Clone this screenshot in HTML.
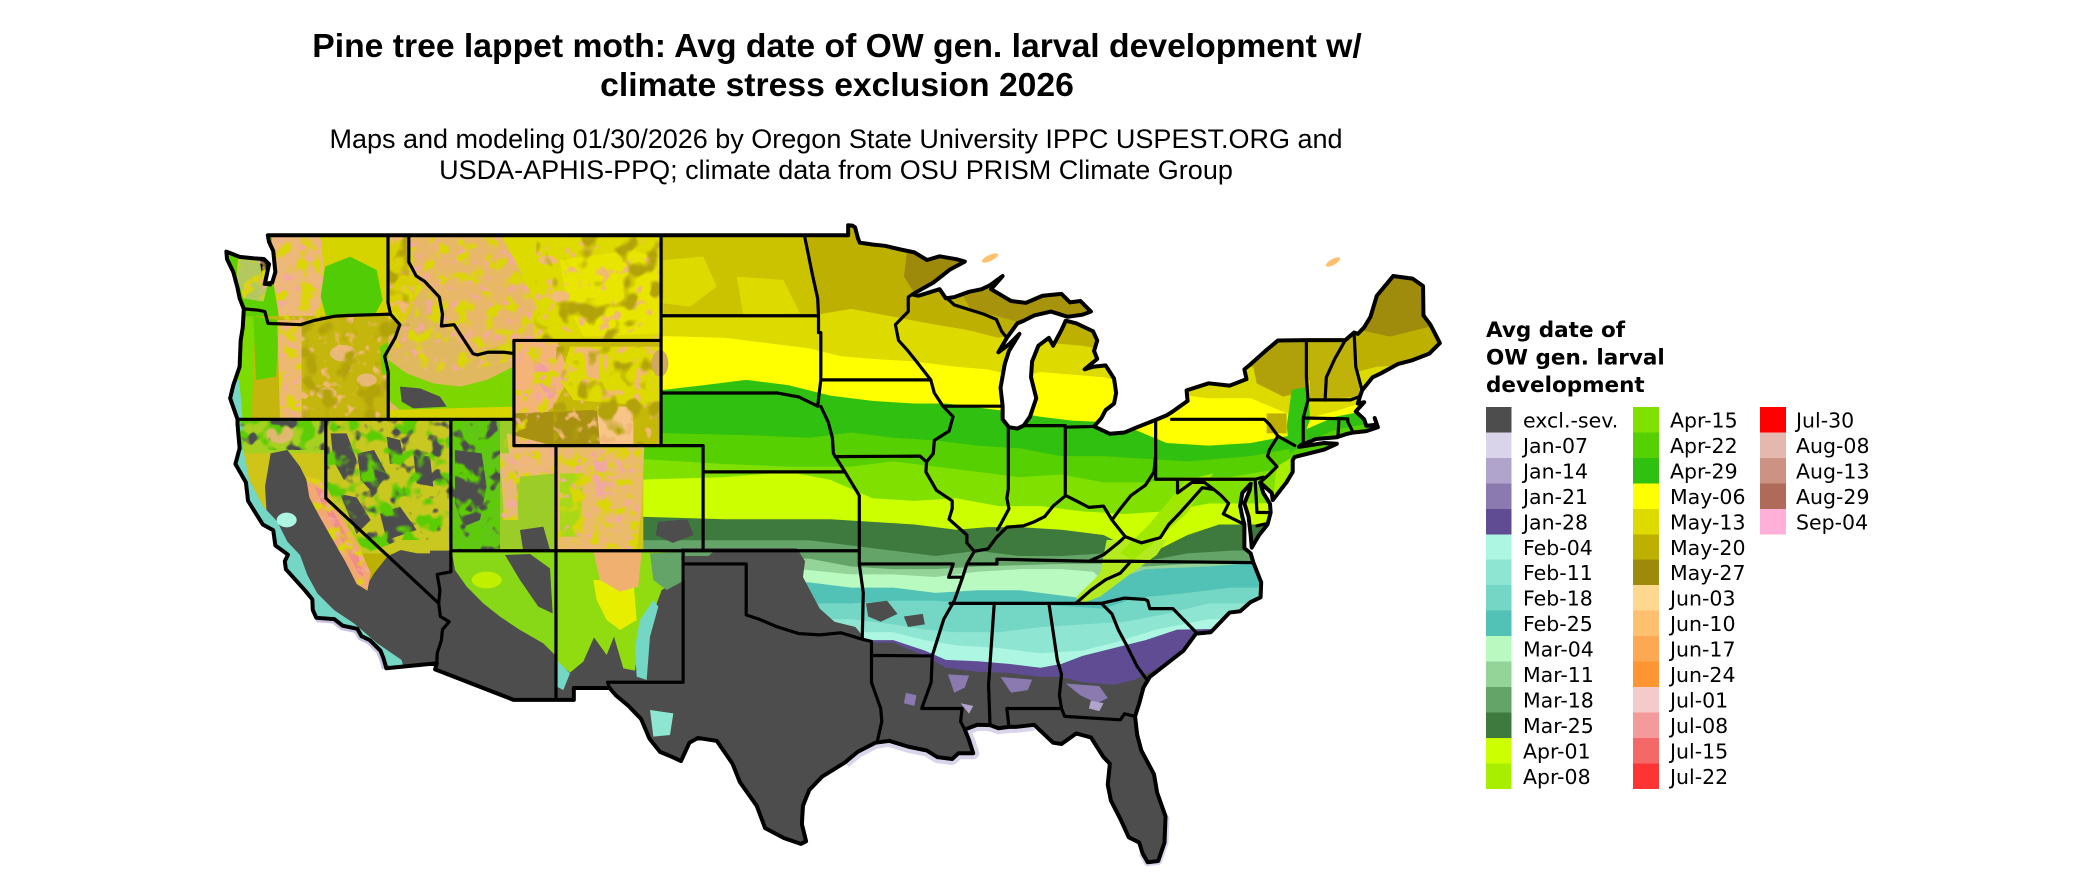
<!DOCTYPE html>
<html><head><meta charset="utf-8"><style>
html,body{margin:0;padding:0;background:#fff;}
svg{display:block;}
</style></head><body>
<svg width="2100" height="892" viewBox="0 0 2100 892" xmlns="http://www.w3.org/2000/svg">
<defs>
<clipPath id="us" clipPathUnits="userSpaceOnUse">
<path transform="matrix(21.02 0 0 -26.29 2848.2 1523.5)" d="M-124.73,48.38 L-124.1,48.18 L-123.4,48.12 L-122.95,48.1 L-122.7,47.9 L-122.9,47.15 L-122.55,47.2 L-122.4,47.6 L-122.45,48.0 L-122.5,48.4 L-122.7,48.75 L-122.76,49.0 L-95.15,49.0 L-95.15,49.38 L-94.95,49.37 L-94.82,49.3 L-94.68,48.88 L-94.6,48.72 L-94.0,48.65 L-93.4,48.6 L-92.6,48.45 L-92.0,48.35 L-91.4,48.06 L-90.8,48.2 L-90.0,48.09 L-89.6,48.0 L-90.3,47.7 L-91.1,47.2 L-92.1,46.75 L-91.8,46.7 L-91.2,46.85 L-90.8,46.95 L-90.5,46.6 L-90.1,46.65 L-89.4,46.85 L-88.8,46.95 L-88.4,47.1 L-87.8,47.45 L-88.35,46.95 L-87.4,46.5 L-86.7,46.43 L-85.9,46.7 L-85.0,46.77 L-84.6,46.45 L-84.1,46.5 L-83.6,46.1 L-84.0,45.98 L-84.7,45.9 L-85.5,46.1 L-86.3,45.95 L-86.8,45.75 L-87.1,45.65 L-87.6,45.1 L-88.0,44.55 L-87.5,44.85 L-87.0,45.25 L-87.5,44.6 L-87.7,44.1 L-87.9,43.2 L-87.8,42.5 L-87.8,42.0 L-87.5,41.7 L-87.1,41.65 L-86.8,41.76 L-86.5,42.1 L-86.2,42.8 L-86.45,43.6 L-86.4,44.2 L-86.1,44.8 L-85.6,45.1 L-85.4,44.8 L-85.0,45.4 L-84.8,45.75 L-84.3,45.65 L-83.5,45.35 L-83.3,45.0 L-83.45,44.6 L-83.3,44.3 L-83.9,43.9 L-83.5,44.0 L-82.9,44.05 L-82.5,43.55 L-82.4,43.0 L-82.5,42.6 L-82.9,42.35 L-83.1,42.05 L-83.45,41.73 L-82.7,41.45 L-82.0,41.5 L-81.4,41.7 L-80.52,41.98 L-80.0,42.15 L-79.76,42.27 L-79.0,42.7 L-79.05,43.1 L-78.0,43.37 L-77.0,43.28 L-76.2,43.53 L-76.3,43.9 L-76.0,44.1 L-75.3,44.6 L-74.7,45.0 L-73.35,45.01 L-71.5,45.01 L-71.08,45.3 L-70.9,45.25 L-70.6,45.5 L-70.3,45.9 L-70.0,46.7 L-69.22,47.45 L-68.3,47.35 L-67.8,47.07 L-67.78,45.95 L-67.45,45.6 L-67.0,44.9 L-67.5,44.5 L-68.3,44.25 L-69.0,44.1 L-69.8,43.75 L-70.2,43.6 L-70.7,43.1 L-70.8,42.87 L-70.9,42.6 L-70.6,42.65 L-71.0,42.3 L-70.6,42.0 L-70.5,41.75 L-70.0,41.8 L-70.1,42.05 L-69.95,41.7 L-70.5,41.55 L-71.1,41.5 L-71.4,41.45 L-71.9,41.32 L-72.9,41.25 L-73.65,41.0 L-73.7,40.95 L-72.5,41.1 L-71.9,41.07 L-72.5,40.85 L-73.9,40.57 L-74.0,40.45 L-74.0,40.0 L-74.3,39.6 L-74.95,38.93 L-75.0,39.2 L-75.55,39.6 L-75.4,39.2 L-75.08,38.78 L-75.05,38.45 L-75.2,38.0 L-75.6,37.6 L-75.95,37.12 L-76.0,37.6 L-76.1,38.3 L-76.3,38.8 L-76.05,39.3 L-76.0,39.55 L-76.4,39.2 L-76.5,38.7 L-76.4,38.3 L-76.3,38.0 L-76.3,37.5 L-76.3,37.1 L-76.0,36.9 L-75.87,36.55 L-75.5,35.8 L-75.53,35.23 L-76.0,35.05 L-76.5,34.7 L-77.0,34.65 L-77.9,33.9 L-78.6,33.85 L-79.2,33.2 L-80.0,32.7 L-80.8,32.2 L-81.1,31.8 L-81.3,31.2 L-81.5,30.7 L-81.4,30.0 L-81.2,29.4 L-80.6,28.5 L-80.45,27.8 L-80.05,26.9 L-80.1,25.9 L-80.4,25.2 L-80.9,25.15 L-81.15,25.5 L-81.3,25.9 L-81.8,26.1 L-82.2,26.8 L-82.65,27.5 L-82.8,28.1 L-82.7,28.9 L-83.0,29.15 L-83.6,29.9 L-84.3,30.05 L-85.0,29.65 L-85.4,29.7 L-86.3,30.38 L-87.2,30.3 L-87.5,30.3 L-88.0,30.25 L-88.4,30.37 L-89.0,30.38 L-89.6,30.2 L-89.4,29.8 L-89.2,29.3 L-89.9,29.3 L-90.2,29.08 L-90.9,29.15 L-91.4,29.4 L-92.3,29.55 L-93.2,29.77 L-93.85,29.7 L-94.7,29.35 L-95.3,28.95 L-96.4,28.4 L-97.0,27.9 L-97.3,27.3 L-97.35,26.6 L-97.15,25.95 L-97.4,25.85 L-98.2,26.07 L-99.1,26.45 L-99.5,27.3 L-100.3,28.2 L-100.65,28.9 L-101.4,29.77 L-102.3,29.88 L-102.7,29.7 L-103.1,29.0 L-103.5,29.15 L-104.1,29.35 L-104.6,29.85 L-105.0,30.6 L-105.6,31.1 L-106.2,31.5 L-106.5,31.78 L-108.2,31.78 L-108.2,31.33 L-111.07,31.33 L-114.8,32.49 L-114.72,32.72 L-117.12,32.53 L-117.25,32.9 L-117.4,33.2 L-117.9,33.6 L-118.3,33.75 L-118.5,34.03 L-119.2,34.15 L-119.6,34.4 L-120.45,34.45 L-120.62,34.75 L-120.64,35.15 L-121.0,35.5 L-121.9,36.3 L-121.95,36.6 L-121.8,36.85 L-122.0,36.97 L-122.4,37.2 L-122.5,37.78 L-123.0,38.0 L-123.7,38.9 L-123.8,39.6 L-124.3,40.3 L-124.1,40.9 L-124.2,41.8 L-124.2,42.0 L-124.55,42.8 L-124.4,43.3 L-124.1,44.0 L-124.05,45.0 L-123.95,45.5 L-123.9,46.2 L-124.1,46.6 L-124.2,47.0 L-124.4,47.6 L-124.7,48.1 Z"/>
</clipPath>
<clipPath id="mtn" clipPathUnits="userSpaceOnUse">
<path transform="translate(200,220) scale(0.333333)" d="M215,40 L360,40 L372,150 L358,300 L240,305 L222,200 Z M115,110 L185,95 L210,170 L190,245 L130,235 L110,170 Z M232,300 L305,300 L305,600 L240,600 Z M628,40 L900,40 L960,150 L1010,260 L1000,360 L940,365 L940,420 L860,440 L700,460 L600,420 L570,320 L628,120 Z M940,360 L1070,360 L1110,470 L1060,560 L990,620 L940,640 Z M920,640 L1070,680 L1070,760 L960,770 L950,900 L905,900 L900,700 Z M1070,680 L1333,680 L1325,860 L1310,1000 L1070,1000 Z M318,770 L362,780 L402,850 L442,920 L482,990 L512,1060 L502,1112 L470,1092 L440,1032 L400,962 L360,892 L328,832 Z"/>
</clipPath>
<clipPath id="nvc" clipPathUnits="userSpaceOnUse">
<path transform="translate(200,220) scale(0.333333)" d="M372,600 L752,600 L752,960 L600,960 L500,1000 L470,960 L420,880 L380,800 Z M752,600 L900,600 L900,1000 L752,1000 Z M100,600 L372,600 L372,690 L100,690 Z"/>
</clipPath>
<clipPath id="mix" clipPathUnits="userSpaceOnUse">
<path transform="translate(200,220) scale(0.333333)" d="M305,300 L585,285 L600,300 L565,420 L565,600 L305,600 Z M1010,60 L1383,40 L1383,360 L1000,360 Z M1070,380 L1383,380 L1383,680 L1060,680 L1060,560 Z M565,40 L628,40 L628,320 L565,320 Z"/>
</clipPath>
<filter id="mY" filterUnits="userSpaceOnUse" x="150" y="200" width="600" height="520" color-interpolation-filters="sRGB">
<feTurbulence type="fractalNoise" baseFrequency="0.07" numOctaves="2" seed="2"/>
<feColorMatrix type="matrix" values="0 0 0 0 0.86  0 0 0 0 0.84  0 0 0 0 0.02  7 0 0 0 -3.6"/>
</filter>
<filter id="mP" filterUnits="userSpaceOnUse" x="150" y="200" width="600" height="520" color-interpolation-filters="sRGB">
<feTurbulence type="fractalNoise" baseFrequency="0.12" numOctaves="2" seed="7"/>
<feColorMatrix type="matrix" values="0 0 0 0 0.96  0 0 0 0 0.66  0 0 0 0 0.64  8 0 0 0 -4.8"/>
</filter>
<filter id="mG" filterUnits="userSpaceOnUse" x="150" y="200" width="600" height="520" color-interpolation-filters="sRGB">
<feTurbulence type="fractalNoise" baseFrequency="0.06" numOctaves="2" seed="11"/>
<feColorMatrix type="matrix" values="0 0 0 0 0.36  0 0 0 0 0.80  0 0 0 0 0.02  7 0 0 0 -3.5"/>
</filter>
<filter id="mD" filterUnits="userSpaceOnUse" x="150" y="200" width="600" height="520" color-interpolation-filters="sRGB">
<feTurbulence type="fractalNoise" baseFrequency="0.07" numOctaves="2" seed="4"/>
<feColorMatrix type="matrix" values="0 0 0 0 0.30  0 0 0 0 0.30  0 0 0 0 0.30  8 0 0 0 -4.6"/>
</filter>
<filter id="mT" filterUnits="userSpaceOnUse" x="150" y="200" width="600" height="520" color-interpolation-filters="sRGB">
<feTurbulence type="fractalNoise" baseFrequency="0.09" numOctaves="2" seed="9"/>
<feColorMatrix type="matrix" values="0 0 0 0 0.95  0 0 0 0 0.72  0 0 0 0 0.47  8 0 0 0 -4.7"/>
</filter>
<filter id="mO" filterUnits="userSpaceOnUse" x="150" y="200" width="600" height="520" color-interpolation-filters="sRGB">
<feTurbulence type="fractalNoise" baseFrequency="0.05" numOctaves="2" seed="13"/>
<feColorMatrix type="matrix" values="0 0 0 0 0.70  0 0 0 0 0.64  0 0 0 0 0.04  7 0 0 0 -3.8"/>
</filter>
</defs>

<!-- titles -->
<g font-family="'Liberation Sans', Arial, sans-serif" fill="#000" text-anchor="middle">
<text x="837" y="57" font-size="33.7" font-weight="bold">Pine tree lappet moth: Avg date of OW gen. larval development w/</text>
<text x="837" y="96" font-size="33.7" font-weight="bold">climate stress exclusion 2026</text>
<text x="836" y="148" font-size="27">Maps and modeling 01/30/2026 by Oregon State University IPPC USPEST.ORG and</text>
<text x="836" y="179" font-size="27">USDA-APHIS-PPQ; climate data from OSU PRISM Climate Group</text>
</g>

<!-- offshore light lavender fringes -->
<g transform="matrix(21.02 0 0 -26.29 2848.2 1523.5)" fill="none" stroke-linejoin="round">
<path vector-effect="non-scaling-stroke" stroke="#DAD4EA" stroke-width="12" d="M-95.3,28.95 L-94.7,29.35 L-93.85,29.7 L-93.2,29.77 L-92.3,29.55 L-91.4,29.4 L-90.9,29.15 L-90.2,29.08 L-89.9,29.3 L-89.2,29.3 L-89.4,29.8 L-89.6,30.2 L-89.0,30.38 L-88.4,30.37 L-88.0,30.25 L-87.5,30.3 L-87.2,30.3 L-86.3,30.38"/>
<path vector-effect="non-scaling-stroke" stroke="#DAD4EA" stroke-width="8" d="M-80.05,26.9 L-80.1,25.9 L-80.4,25.2 L-80.9,25.15 L-81.15,25.5"/>
<path vector-effect="non-scaling-stroke" stroke="#C9C1E0" stroke-width="9" d="M-120.45,34.45 L-119.6,34.4 L-119.2,34.15 L-118.5,34.03 L-118.3,33.75 L-117.9,33.6 L-117.4,33.2 L-117.25,32.9 L-117.12,32.53"/>
</g>
<ellipse cx="1333" cy="262" rx="8" ry="3" fill="#FFC070" transform="rotate(-30 1333 262)"/>
<ellipse cx="990" cy="258" rx="9" ry="3" fill="#FFC070" transform="rotate(-25 990 258)"/>

<g clip-path="url(#us)">
<rect x="150" y="200" width="1350" height="700" fill="#BDB000"/>

<!-- east latitude bands (lon/lat space) -->
<g transform="matrix(21.02 0 0 -26.29 2848.2 1523.5)">
<path fill="#DDDA00" d="M-105.2,46.6 L-104.05,46.6 L-100,46.4 L-97.5,46.2 L-96.5,46.0 L-95,46.2 L-93,45.9 L-91,45.6 L-89.5,45.4 L-88,45.1 L-87,45.3 L-85.5,44.9 L-84,44.8 L-82,44.5 L-76,44.0 L-74,43.4 L-72,43.6 L-70,44.0 L-66,44.2 L-66,24 L-105.2,24Z"/>
<path fill="#FFFF00" d="M-105.2,45.2 L-101,45.1 L-99,44.9 L-97,44.7 L-95.5,44.4 L-94,44.3 L-92,44.2 L-90,44.0 L-88.5,43.9 L-87,43.6 L-86,43.8 L-84.5,43.7 L-83,43.6 L-80,43.0 L-78,42.8 L-76,42.8 L-74.5,42.3 L-73.5,42.0 L-72,42.3 L-70,42.8 L-66,43.0 L-66,24 L-105.2,24Z"/>
<path fill="#30C010" d="M-105.2,43.0 L-102,43.3 L-100,43.5 L-98,43.3 L-97,43.1 L-96,42.9 L-94,42.7 L-92,42.6 L-90.5,42.6 L-89,42.45 L-87.5,42.3 L-86,42.1 L-84.5,41.95 L-83,41.9 L-81.5,41.6 L-80,41.1 L-78,41.0 L-76,41.1 L-74,41.4 L-72,42.1 L-70,42.4 L-66,42.5 L-66,24 L-105.2,24Z"/>
<path fill="#56D000" d="M-105.2,41.5 L-100,41.4 L-97,41.3 L-95,41.5 L-93,41.3 L-91,41.2 L-89,41.0 L-87,40.9 L-85,40.6 L-83,40.6 L-81,40.5 L-79,40.4 L-76,40.6 L-74,40.9 L-72,41.6 L-70,41.9 L-66,42.0 L-66,24 L-105.2,24Z"/>
<path fill="#80E000" d="M-105.2,40.5 L-101,40.3 L-98,40.2 L-95,40.2 L-93,40.4 L-91,40.2 L-89,40.0 L-87,39.8 L-85,39.9 L-83,39.6 L-81,39.6 L-79,39.8 L-77,39.8 L-74,40.2 L-66,40.5 L-66,24 L-105.2,24Z"/>
<path fill="#CCFF00" d="M-105.2,39.7 L-101,39.8 L-98,40.0 L-96,39.7 L-94,39.0 L-92,38.9 L-90,39.0 L-88,38.7 L-86,38.7 L-84,38.5 L-82,38.4 L-80,38.5 L-78,38.8 L-76,38.8 L-66,39.0 L-66,24 L-105.2,24Z"/>
<path fill="#3E7A3E" d="M-105.2,38.3 L-101,38.2 L-98,38.2 L-96,38.2 L-94,38.1 L-92,38.0 L-90,37.8 L-88.5,37.9 L-87,37.9 L-85,37.8 L-83,37.6 L-82,37.2 L-80.5,37.0 L-79,37.6 L-77.5,38.0 L-76,38.0 L-66,38.0 L-66,24 L-105.2,24Z"/>
<path fill="#64A468" d="M-105.2,37.4 L-100,37.4 L-97,37.4 L-95,37.2 L-93,37.0 L-91,36.8 L-89,37.0 L-87,36.8 L-85,36.8 L-83,36.9 L-81,36.6 L-79,36.9 L-77,37.0 L-66,37.2 L-66,24 L-105.2,24Z"/>
<path fill="#94D498" d="M-105.2,36.6 L-100,36.7 L-97,36.7 L-95,36.4 L-93,36.3 L-91,36.3 L-89,36.4 L-87,36.45 L-85,36.5 L-83,36.5 L-81,36.4 L-79,36.5 L-76,36.6 L-66,36.7 L-66,24 L-105.2,24Z"/>
<path fill="#B8FAC0" d="M-105.2,36.3 L-97.5,36.3 L-95,36.1 L-93,36.1 L-91,36.0 L-89,36.2 L-87,36.3 L-85,36.3 L-83.5,36.2 L-82.5,35.5 L-80,35.0 L-66,35.0 L-66,24 L-105.2,24Z"/>
<path fill="#52C2B6" d="M-105.2,35.7 L-97,35.8 L-95,35.6 L-93,35.6 L-91,35.4 L-89,35.5 L-87,35.5 L-85,35.3 L-84,35.2 L-82.5,35.9 L-81,36.3 L-78,36.4 L-75,36.6 L-66,36.6 L-66,24 L-105.2,24Z"/>
<path fill="#74D6C4" d="M-105.2,35.0 L-97,35.0 L-95,35.0 L-93,35.1 L-91,35.1 L-89,35.0 L-87,35.0 L-85,34.9 L-83,34.8 L-81.5,35.2 L-79,35.4 L-77,35.6 L-66,35.6 L-66,24 L-105.2,24Z"/>
<path fill="#8EE6D2" d="M-105.2,34.4 L-95,34.4 L-93,34.2 L-91.5,34.0 L-90,33.9 L-88,33.9 L-86,34.1 L-84,34.2 L-82,34.3 L-80,34.6 L-78,35.0 L-66,35.0 L-66,24 L-105.2,24Z"/>
<path fill="#ADF7E2" d="M-105.2,33.9 L-93,33.9 L-91.5,33.6 L-90,33.4 L-88,33.3 L-86,33.1 L-84,33.2 L-82.5,33.5 L-80.5,34.0 L-78,34.4 L-66,34.4 L-66,24 L-105.2,24Z"/>
<path fill="#604C92" d="M-105.2,33.6 L-93,33.6 L-91.5,33.2 L-90.5,32.85 L-89,32.8 L-87.5,32.7 L-86,32.55 L-85,32.7 L-84,33.0 L-82.5,33.3 L-81,33.6 L-79.5,34.0 L-66,34.2 L-66,24 L-105.2,24Z"/>
<path fill="#4D4D4D" d="M-105.2,33.5 L-93,33.5 L-91.5,33.0 L-90.5,32.55 L-89,32.4 L-87.5,32.35 L-86,32.2 L-85,32.2 L-84,32.0 L-82.5,31.9 L-81.5,32.1 L-80.5,32.5 L-79,33.0 L-66,33.2 L-66,24 L-105.2,24Z"/>
<path fill="#8A7AB0" d="M-90.4,32.3 L-89.4,32.25 L-89.6,31.8 L-90.1,31.6 Z M-87.9,32.2 L-86.4,32.1 L-86.6,31.7 L-87.4,31.6 Z M-84.8,31.95 L-83.2,31.85 L-82.8,31.4 L-83.3,31.2 L-84.1,31.5 Z M-92.4,31.6 L-91.9,31.5 L-92.0,31.1 L-92.5,31.2 Z"/>
<path fill="#B0A4CC" d="M-83.6,31.3 L-83.0,31.2 L-83.2,30.9 L-83.7,31.0 Z M-89.8,31.2 L-89.2,31.1 L-89.4,30.8 Z"/>
<path fill="#4D4D4D" d="M-103.1,37.1 L-97.6,37.1 L-97.2,36.6 L-97.3,36.0 L-96.9,35.4 L-96.5,34.8 L-95.8,34.3 L-94.8,34.1 L-94.3,33.6 L-93.9,33.4 L-93.6,32.5 L-93.3,31.0 L-93.2,29.0 L-96,24 L-107,24 L-107,32.0 L-103.1,32.0 Z"/>
<path fill="#64A468" d="M-103.0,37.0 L-101.5,37.0 L-101.8,36.8 L-103.0,36.8 Z"/>
<path fill="#4D4D4D" d="M-94.3,35.0 L-93.3,35.1 L-92.8,34.6 L-93.6,34.3 L-94.2,34.5 Z M-92.5,34.5 L-91.6,34.6 L-91.5,34.2 L-92.3,34.1 Z"/>
<path fill="#4D4D4D" d="M-104.2,38.1 L-102.8,38.2 L-102.5,37.6 L-103.5,37.3 L-104.3,37.6 Z"/>
</g>

<!-- WEST overlays (zoom space: x=200+zx/3, y=220+zy/3) -->
<g transform="translate(200,220) scale(0.333333)">
<path fill="#CFC418" d="M0,0 H1383 V680 H1330 V1000 H0 Z"/>
<path fill="#5CD000" d="M40,40 L225,40 L235,300 L200,330 L40,330 Z"/>
<path fill="#B4C860" d="M115,110 L185,95 L210,170 L190,245 L130,235 L110,170 Z"/>
<path fill="#EDB878" d="M215,40 L360,40 L372,150 L358,300 L240,305 L222,200 Z"/>
<path fill="#D6D400" d="M360,40 L570,40 L570,290 L358,300 L372,150 Z"/>
<path fill="#52CC04" d="M375,140 L450,110 L530,150 L548,240 L520,292 L380,296 L362,230 Z"/>
<path fill="#C4B60C" d="M95,290 L585,285 L600,300 L565,420 L565,600 L95,600 Z"/>
<path fill="#7CDC00" d="M90,290 L165,290 L155,600 L85,600 Z"/>
<path fill="#5CD000" d="M160,290 L238,300 L228,470 L168,480 Z"/>
<path fill="#EDB870" d="M232,300 L305,300 L305,600 L240,600 Z"/>
<ellipse cx="430" cy="400" rx="40" ry="25" fill="#E8B878"/>
<ellipse cx="500" cy="480" rx="30" ry="20" fill="#E8B878"/>
<ellipse cx="380" cy="520" rx="30" ry="18" fill="#E8B878"/>
<path fill="#6CD000" d="M540,380 L575,360 L580,470 L545,460 Z"/>
<path fill="#A8D020" d="M85,600 L372,600 L372,700 L95,700 Z"/>
<ellipse cx="240" cy="640" rx="40" ry="30" fill="#E0B870"/>
<path fill="#C8C820" d="M370,600 L752,600 L752,1000 L370,1000 Z"/>
<path fill="#4D4D4D" d="M392,640 L440,640 L470,720 L432,780 L400,722 Z M472,700 L522,690 L560,760 L522,822 L482,780 Z M420,822 L470,832 L512,900 L470,942 Z M560,650 L600,660 L612,722 L570,732 Z M640,700 L690,710 L700,800 L650,790 Z M540,880 L600,860 L650,930 L560,960 Z"/>
<path fill="#E0B860" d="M565,40 L625,40 L628,120 L680,200 L740,240 L742,320 L790,380 L830,400 L940,380 L940,600 L565,600 Z"/>
<path fill="#D8D000" d="M570,40 L625,40 L628,120 L660,200 L620,300 L570,320 Z"/>
<path fill="#7ED600" d="M565,420 L620,460 L700,490 L780,500 L860,480 L940,440 L940,560 L850,585 L700,570 L600,570 L565,540 Z"/>
<path fill="#4D4D4D" d="M600,500 L660,505 L720,530 L740,560 L640,565 L605,545 Z"/>
<path fill="#D8D400" d="M565,570 L940,560 L940,600 L565,600 Z"/>
<path fill="#DDDA00" d="M625,40 L1383,40 L1383,360 L940,360 L830,400 L790,380 L742,320 L740,240 L680,200 L628,120 Z"/>
<path fill="#E8B868" d="M628,40 L900,40 L960,150 L1010,260 L1000,360 L940,365 L830,400 L790,380 L742,320 L740,240 L680,200 L628,120 Z"/>
<path fill="#E8E600" d="M1080,120 L1300,90 L1383,120 L1383,340 L1150,350 L1100,250 Z"/>
<ellipse cx="1040" cy="120" rx="25" ry="14" fill="#F0BC78"/>
<ellipse cx="1080" cy="230" rx="30" ry="18" fill="#F0BC78"/>
<path fill="#C6B808" d="M940,360 L1383,360 L1383,680 L940,680 Z"/>
<path fill="#F4B478" d="M940,360 L1070,360 L1110,470 L1060,560 L990,620 L940,640 Z"/>
<path fill="#F0A0A0" d="M1000,420 L1040,440 L1070,520 L1050,540 L1010,480 Z"/>
<path fill="#DDDA00" d="M1110,380 L1380,380 L1380,560 L1120,540 L1080,480 Z"/>
<path fill="#F0B878" d="M1150,380 L1200,390 L1200,480 L1160,470 Z"/>
<path fill="#A89010" d="M940,580 L1180,570 L1260,600 L1260,680 L940,680 Z"/>
<path fill="#F8C488" d="M1190,560 L1300,560 L1300,675 L1200,675 Z"/>
<path fill="#9CCC28" d="M752,600 L940,600 L940,680 L1070,680 L1070,1000 L752,1000 Z"/>
<path fill="#60C814" d="M752,600 L900,600 L900,1000 L752,1000 Z"/>
<path fill="#4D4D4D" d="M765,690 L845,700 L860,800 L840,900 L790,920 L765,850 Z"/>
<path fill="#EEB878" d="M920,640 L1070,680 L1070,760 L960,770 L930,720 Z"/>
<path fill="#E8B878" d="M900,700 L945,700 L955,900 L912,900 Z"/>
<path fill="#4D4D4D" d="M960,930 L1030,920 L1050,990 L970,995 Z"/>
<path fill="#EABC6A" d="M1070,680 L1333,680 L1325,860 L1310,1000 L1070,1000 Z"/>
<path fill="#A8D818" d="M1080,760 L1150,760 L1140,950 L1080,950 Z"/>
<path fill="#F0A8A0" d="M1180,720 L1220,720 L1230,820 L1190,830 Z"/>
<path fill="#4D4D4D" d="M212,700 L262,690 L300,740 L332,805 L350,855 L372,900 L412,962 L452,1030 L482,1080 L500,1098 L522,1060 L562,1010 L602,990 L652,1000 L700,1000 L760,995 L760,1350 L580,1350 L520,1300 L440,1240 L380,1200 L330,1140 L290,1080 L260,1010 L230,950 L200,880 L195,800 Z"/>
<path fill="#74D6C4" d="M92,480 L118,480 L128,600 L132,700 L148,780 L190,860 L232,905 L262,965 L300,1005 L322,1065 L352,1120 L402,1170 L462,1210 L532,1270 L605,1320 L615,1360 L520,1360 L440,1300 L360,1260 L300,1210 L240,1140 L200,1070 L170,970 L130,890 L100,780 L85,700 L85,560 Z"/>
<path fill="#8074AC" d="M95,730 L125,800 L165,875 L205,935 L228,1000 L275,1080 L325,1160 L395,1228 L478,1282 L560,1332 L600,1360 L500,1360 L420,1305 L340,1255 L270,1195 L218,1115 L178,1025 L138,935 L108,845 L88,770 Z"/>
<ellipse cx="260" cy="900" rx="30" ry="22" fill="#ADF7E2"/>
<path fill="#F2A870" d="M318,770 L362,780 L402,850 L442,920 L482,990 L512,1060 L502,1112 L470,1092 L440,1032 L400,962 L360,892 L328,832 Z"/>
<path fill="#F08C8C" d="M345,800 L365,810 L430,930 L480,1020 L490,1070 L475,1060 L420,950 L360,840 Z"/>
<path fill="#000" d="M175,62 L205,55 L218,95 L226,150 L214,200 L188,196 L182,140 L176,100 Z"/>
</g>

<!-- mottling -->
<g clip-path="url(#mtn)">
<rect x="150" y="200" width="600" height="520" filter="url(#mY)"/>
<rect x="150" y="200" width="600" height="520" filter="url(#mP)"/>
</g>
<g clip-path="url(#nvc)">
<rect x="150" y="200" width="600" height="520" filter="url(#mG)"/>
<rect x="150" y="200" width="600" height="520" filter="url(#mD)"/>
</g>
<g clip-path="url(#mix)">
<rect x="150" y="200" width="600" height="520" filter="url(#mT)"/>
<rect x="150" y="200" width="600" height="520" filter="url(#mO)"/>
</g>

<!-- SW overlays (x=420+zx/3, y=480+zy/3) -->
<g transform="translate(420,480) scale(0.333333)">
<path fill="#4D4D4D" d="M30,212 L405,212 L405,700 L30,700 Z"/>
<path fill="#88D818" d="M95,215 L405,215 L405,525 L370,490 L300,450 L240,410 L190,370 L140,320 L105,270 Z"/>
<ellipse cx="200" cy="300" rx="45" ry="25" fill="#C0F000"/>
<path fill="#4D4D4D" d="M255,225 L330,222 L390,265 L398,400 L355,380 L300,300 Z"/>
<path fill="#4D4D4D" d="M405,212 L795,212 L795,700 L405,700 Z"/>
<path fill="#90DC10" d="M405,215 L795,215 L795,290 L725,330 L692,420 L655,500 L645,572 L610,565 L582,470 L560,525 L522,472 L490,545 L450,578 L410,545 Z"/>
<path fill="#E8EE00" d="M520,300 L640,300 L650,420 L600,450 L560,420 L530,360 Z"/>
<path fill="#F0B070" d="M520,212 L665,212 L655,320 L600,335 L540,300 Z"/>
<path fill="#64A468" d="M690,220 L795,215 L795,300 L740,330 L700,300 Z"/>
<path fill="#74D6C4" d="M645,500 L660,420 L700,360 L715,380 L690,470 L680,600 L650,590 Z"/>
<path fill="#74D6C4" d="M410,540 L450,580 L430,630 L410,620 Z"/>
<path fill="#8EE6D2" d="M690,690 L760,700 L750,765 L700,770 Z"/>
</g>

<!-- Central overlays (x=650+zx/3, y=220+zy/3) -->
<g transform="translate(650,220) scale(0.333333)">
<path fill="#CBC300" d="M40,44 L470,44 L505,290 L40,290 Z"/>
<path fill="#DDDA00" d="M40,120 L160,110 L200,200 L120,260 L40,250 Z M260,170 L400,180 L450,280 L280,285 Z"/>
<path fill="#9E8A0A" d="M770,100 L955,120 L880,195 L800,230 L762,170 Z"/>
<path fill="#A8940C" d="M940,230 L1050,170 L1240,215 L1335,280 L1240,300 L1100,305 L960,265 Z"/>
<ellipse cx="30" cy="430" rx="25" ry="40" fill="#D0A860"/>
</g>

<!-- SE overlays (x=900+zx/3, y=540+zy/3) -->
<g transform="translate(900,540) scale(0.333333)">
<path fill="#B4EA20" d="M620,0 L800,0 L770,45 L680,110 L600,170 L540,192 L528,172 L600,100 Z"/>
</g>

<!-- NE overlays (x=1000+zx/3, y=240+zy/3) -->
<g transform="translate(1000,240) scale(0.333333)">
<path fill="#B0A00A" d="M750,330 L830,300 L920,300 L925,450 L850,470 L770,430 Z"/>
<path fill="#34C412" d="M875,450 L925,440 L930,540 L900,620 L870,640 L860,560 Z"/>
<path fill="#A08C0C" d="M1110,110 L1270,110 L1290,260 L1170,290 L1080,270 L1120,180 Z"/>
<path fill="#BFB208" d="M930,300 L1070,290 L1080,470 L930,480 Z"/>
<path fill="#BDB000" d="M800,520 L860,520 L860,580 L800,580 Z"/>
<path fill="#A0E800" d="M560,720 L640,700 L560,820 L470,900 L400,960 L360,940 L450,850 Z"/>
<path fill="#A8EE00" d="M830,680 L880,650 L860,780 L820,770 Z"/>
</g>
</g>

<!-- state borders -->
<g transform="matrix(21.02 0 0 -26.29 2848.2 1523.5)" fill="none" stroke="#000" stroke-linejoin="round" stroke-linecap="round">
<path vector-effect="non-scaling-stroke" stroke-width="3.2" d="M-123.9,46.2 L-123.2,46.15 L-122.9,46.1 L-122.75,45.65 L-121.2,45.6 L-120.6,45.75 L-119.6,45.92 L-119.0,45.95 L-116.92,46.0 M-116.92,46.0 L-117.04,46.43 L-117.04,49.0 M-116.92,46.0 L-116.48,45.6 L-116.7,45.1 L-117.2,44.4 L-117.03,43.8 L-117.03,42.0 M-124.2,42.0 L-111.05,42.0 M-120.0,42.0 L-120.0,39.0 L-114.63,35.0 M-114.63,35.0 L-114.55,34.5 L-114.13,34.3 L-114.45,34.0 L-114.5,33.6 L-114.7,33.1 L-114.72,32.72 M-114.05,42.0 L-114.05,36.2 L-114.7,36.1 L-114.57,35.5 L-114.63,35.0 M-114.05,37.0 L-94.62,37.0 M-111.05,42.0 L-111.05,41.0 L-102.05,41.0 L-102.05,40.0 L-95.3,40.0 M-109.05,41.0 L-109.05,31.33 M-116.05,49.0 L-116.05,47.98 L-115.7,47.45 L-115.3,47.25 L-114.6,46.65 L-114.45,46.0 L-114.5,45.55 L-113.9,45.6 L-113.45,45.05 L-113.0,44.5 L-112.8,44.45 L-112.3,44.55 L-111.5,44.55 L-111.05,44.5 L-111.05,42.0 M-111.05,44.5 L-111.05,45.0 L-104.05,45.0 M-104.05,49.0 L-104.05,41.0 M-103.0,37.0 L-103.0,32.0 L-106.6,32.0 L-106.5,31.78 M-103.0,36.5 L-100.0,36.5 L-100.0,34.56 L-99.4,34.4 L-98.5,34.1 L-97.5,33.85 L-96.5,33.8 L-95.5,33.88 L-94.5,33.64 L-94.04,33.55 L-94.04,31.99 L-93.6,31.0 L-93.55,30.5 L-93.75,29.8 M-102.05,40.0 L-102.05,37.0 M-94.62,37.0 L-94.62,36.5 L-94.43,35.4 L-94.48,33.64 M-94.04,33.02 L-91.16,33.0 M-104.05,45.94 L-96.56,45.94 M-104.05,43.0 L-98.5,43.0 L-97.5,42.85 L-96.6,42.5 M-96.45,42.49 L-96.1,41.9 L-95.9,41.3 L-95.85,40.7 L-95.3,40.0 M-96.56,45.94 L-96.56,45.3 L-96.45,45.3 L-96.45,43.5 L-96.6,42.5 M-96.45,43.5 L-91.22,43.5 M-97.23,49.0 L-96.85,47.5 L-96.6,46.6 L-96.56,45.94 M-92.1,46.75 L-92.29,46.65 L-92.29,46.1 L-92.9,45.6 L-92.75,45.0 L-92.3,44.6 L-91.9,44.2 L-91.22,43.5 L-91.05,43.0 L-90.64,42.5 L-87.8,42.5 M-90.64,42.5 L-90.16,42.1 L-90.35,41.55 L-91.05,41.2 L-91.1,40.7 L-91.42,40.38 L-91.45,40.0 L-90.95,39.3 L-90.2,38.9 L-90.2,38.6 L-90.35,38.2 L-89.5,37.6 L-89.5,37.3 L-89.15,36.98 M-95.77,40.58 L-91.73,40.6 L-91.42,40.38 M-95.3,40.0 L-94.62,39.1 L-94.62,37.0 M-94.62,36.5 L-90.15,36.5 L-90.37,35.99 L-89.7,36.0 L-89.5,36.5 L-89.15,36.98 M-89.7,36.0 L-90.1,35.1 L-90.6,34.4 L-91.15,33.0 L-91.2,32.0 L-91.65,31.0 L-89.73,31.0 L-89.8,30.5 L-89.6,30.2 M-88.2,35.0 L-88.47,31.9 L-88.4,30.37 M-90.3,35.0 L-83.1,35.0 M-89.5,36.5 L-88.07,36.5 L-88.07,36.68 L-83.7,36.6 L-81.7,36.6 L-75.87,36.55 M-85.6,35.0 L-85.2,32.85 L-85.0,32.3 L-85.1,31.5 L-85.0,31.0 L-87.6,31.0 L-87.5,30.3 M-85.0,31.0 L-84.85,30.7 L-82.2,30.57 L-82.0,30.8 L-81.5,30.7 M-83.1,35.0 L-82.6,34.6 L-82.3,34.0 L-81.9,33.4 L-81.4,32.6 L-80.9,32.05 M-83.1,35.0 L-82.0,35.2 L-81.04,35.15 L-80.9,35.1 L-80.8,34.8 L-79.7,34.8 L-78.55,33.86 M-84.32,35.0 L-83.6,35.5 L-82.9,35.9 L-82.2,36.15 L-81.7,36.6 M-83.7,36.6 L-83.0,36.85 L-82.3,37.3 L-81.97,37.54 L-82.6,38.17 M-82.6,38.17 L-83.0,38.7 L-83.7,38.65 L-84.3,38.9 L-84.8,39.1 L-85.4,38.7 L-85.8,38.3 L-86.3,38.1 L-86.8,37.95 L-87.6,37.9 L-88.1,37.5 L-88.5,37.07 L-89.15,36.98 M-82.6,38.17 L-82.2,38.6 L-81.7,39.1 L-81.0,39.5 L-80.6,40.0 L-80.52,40.64 M-81.97,37.54 L-81.2,37.3 L-80.3,37.5 L-79.9,38.0 L-79.3,38.5 L-78.8,38.95 L-78.3,39.4 L-77.75,39.33 M-77.75,39.33 L-78.2,39.6 L-78.8,39.6 L-79.48,39.2 L-79.48,39.72 M-75.79,39.72 L-80.52,39.72 L-80.52,41.98 M-79.76,42.0 L-75.35,42.0 L-75.1,41.8 L-74.7,41.36 M-74.7,41.36 L-75.1,40.85 L-75.2,40.6 L-74.75,40.2 L-75.13,39.9 L-75.55,39.6 M-75.4,39.8 L-75.79,39.72 L-75.7,38.46 L-75.05,38.45 M-75.7,37.95 L-75.25,38.03 M-77.75,39.33 L-77.4,39.1 L-77.05,38.8 L-77.3,38.4 L-76.3,38.0 M-74.7,41.36 L-73.9,41.0 M-73.35,45.01 L-73.35,43.6 L-73.27,42.74 L-73.5,42.05 L-73.5,41.1 L-73.65,41.0 M-71.5,45.01 L-72.0,44.3 L-72.4,43.6 L-72.46,42.73 M-73.27,42.74 L-71.25,42.74 L-70.8,42.87 M-71.08,45.3 L-71.0,44.0 L-70.7,43.1 M-73.5,42.05 L-71.38,42.02 L-71.38,41.9 L-71.12,41.5 M-71.8,42.01 L-71.85,41.32 M-84.82,39.1 L-84.82,41.7 L-83.45,41.73 M-84.82,41.76 L-86.8,41.76 M-87.53,41.7 L-87.53,39.35 L-87.6,39.0 L-87.5,38.6 L-87.9,38.0 L-88.05,37.8 M-87.6,45.1 L-87.85,45.35 L-88.1,45.8 L-88.7,46.0 L-89.1,46.1 L-90.1,46.35 L-90.4,46.57"/>
<path vector-effect="non-scaling-stroke" stroke-width="4" d="M-124.73,48.38 L-124.1,48.18 L-123.4,48.12 L-122.95,48.1 L-122.7,47.9 L-122.9,47.15 L-122.55,47.2 L-122.4,47.6 L-122.45,48.0 L-122.5,48.4 L-122.7,48.75 L-122.76,49.0 L-95.15,49.0 L-95.15,49.38 L-94.95,49.37 L-94.82,49.3 L-94.68,48.88 L-94.6,48.72 L-94.0,48.65 L-93.4,48.6 L-92.6,48.45 L-92.0,48.35 L-91.4,48.06 L-90.8,48.2 L-90.0,48.09 L-89.6,48.0 L-90.3,47.7 L-91.1,47.2 L-92.1,46.75 L-91.8,46.7 L-91.2,46.85 L-90.8,46.95 L-90.5,46.6 L-90.1,46.65 L-89.4,46.85 L-88.8,46.95 L-88.4,47.1 L-87.8,47.45 L-88.35,46.95 L-87.4,46.5 L-86.7,46.43 L-85.9,46.7 L-85.0,46.77 L-84.6,46.45 L-84.1,46.5 L-83.6,46.1 L-84.0,45.98 L-84.7,45.9 L-85.5,46.1 L-86.3,45.95 L-86.8,45.75 L-87.1,45.65 L-87.6,45.1 L-88.0,44.55 L-87.5,44.85 L-87.0,45.25 L-87.5,44.6 L-87.7,44.1 L-87.9,43.2 L-87.8,42.5 L-87.8,42.0 L-87.5,41.7 L-87.1,41.65 L-86.8,41.76 L-86.5,42.1 L-86.2,42.8 L-86.45,43.6 L-86.4,44.2 L-86.1,44.8 L-85.6,45.1 L-85.4,44.8 L-85.0,45.4 L-84.8,45.75 L-84.3,45.65 L-83.5,45.35 L-83.3,45.0 L-83.45,44.6 L-83.3,44.3 L-83.9,43.9 L-83.5,44.0 L-82.9,44.05 L-82.5,43.55 L-82.4,43.0 L-82.5,42.6 L-82.9,42.35 L-83.1,42.05 L-83.45,41.73 L-82.7,41.45 L-82.0,41.5 L-81.4,41.7 L-80.52,41.98 L-80.0,42.15 L-79.76,42.27 L-79.0,42.7 L-79.05,43.1 L-78.0,43.37 L-77.0,43.28 L-76.2,43.53 L-76.3,43.9 L-76.0,44.1 L-75.3,44.6 L-74.7,45.0 L-73.35,45.01 L-71.5,45.01 L-71.08,45.3 L-70.9,45.25 L-70.6,45.5 L-70.3,45.9 L-70.0,46.7 L-69.22,47.45 L-68.3,47.35 L-67.8,47.07 L-67.78,45.95 L-67.45,45.6 L-67.0,44.9 L-67.5,44.5 L-68.3,44.25 L-69.0,44.1 L-69.8,43.75 L-70.2,43.6 L-70.7,43.1 L-70.8,42.87 L-70.9,42.6 L-70.6,42.65 L-71.0,42.3 L-70.6,42.0 L-70.5,41.75 L-70.0,41.8 L-70.1,42.05 L-69.95,41.7 L-70.5,41.55 L-71.1,41.5 L-71.4,41.45 L-71.9,41.32 L-72.9,41.25 L-73.65,41.0 L-73.7,40.95 L-72.5,41.1 L-71.9,41.07 L-72.5,40.85 L-73.9,40.57 L-74.0,40.45 L-74.0,40.0 L-74.3,39.6 L-74.95,38.93 L-75.0,39.2 L-75.55,39.6 L-75.4,39.2 L-75.08,38.78 L-75.05,38.45 L-75.2,38.0 L-75.6,37.6 L-75.95,37.12 L-76.0,37.6 L-76.1,38.3 L-76.3,38.8 L-76.05,39.3 L-76.0,39.55 L-76.4,39.2 L-76.5,38.7 L-76.4,38.3 L-76.3,38.0 L-76.3,37.5 L-76.3,37.1 L-76.0,36.9 L-75.87,36.55 L-75.5,35.8 L-75.53,35.23 L-76.0,35.05 L-76.5,34.7 L-77.0,34.65 L-77.9,33.9 L-78.6,33.85 L-79.2,33.2 L-80.0,32.7 L-80.8,32.2 L-81.1,31.8 L-81.3,31.2 L-81.5,30.7 L-81.4,30.0 L-81.2,29.4 L-80.6,28.5 L-80.45,27.8 L-80.05,26.9 L-80.1,25.9 L-80.4,25.2 L-80.9,25.15 L-81.15,25.5 L-81.3,25.9 L-81.8,26.1 L-82.2,26.8 L-82.65,27.5 L-82.8,28.1 L-82.7,28.9 L-83.0,29.15 L-83.6,29.9 L-84.3,30.05 L-85.0,29.65 L-85.4,29.7 L-86.3,30.38 L-87.2,30.3 L-87.5,30.3 L-88.0,30.25 L-88.4,30.37 L-89.0,30.38 L-89.6,30.2 L-89.4,29.8 L-89.2,29.3 L-89.9,29.3 L-90.2,29.08 L-90.9,29.15 L-91.4,29.4 L-92.3,29.55 L-93.2,29.77 L-93.85,29.7 L-94.7,29.35 L-95.3,28.95 L-96.4,28.4 L-97.0,27.9 L-97.3,27.3 L-97.35,26.6 L-97.15,25.95 L-97.4,25.85 L-98.2,26.07 L-99.1,26.45 L-99.5,27.3 L-100.3,28.2 L-100.65,28.9 L-101.4,29.77 L-102.3,29.88 L-102.7,29.7 L-103.1,29.0 L-103.5,29.15 L-104.1,29.35 L-104.6,29.85 L-105.0,30.6 L-105.6,31.1 L-106.2,31.5 L-106.5,31.78 L-108.2,31.78 L-108.2,31.33 L-111.07,31.33 L-114.8,32.49 L-114.72,32.72 L-117.12,32.53 L-117.25,32.9 L-117.4,33.2 L-117.9,33.6 L-118.3,33.75 L-118.5,34.03 L-119.2,34.15 L-119.6,34.4 L-120.45,34.45 L-120.62,34.75 L-120.64,35.15 L-121.0,35.5 L-121.9,36.3 L-121.95,36.6 L-121.8,36.85 L-122.0,36.97 L-122.4,37.2 L-122.5,37.78 L-123.0,38.0 L-123.7,38.9 L-123.8,39.6 L-124.3,40.3 L-124.1,40.9 L-124.2,41.8 L-124.2,42.0 L-124.55,42.8 L-124.4,43.3 L-124.1,44.0 L-124.05,45.0 L-123.95,45.5 L-123.9,46.2 L-124.1,46.6 L-124.2,47.0 L-124.4,47.6 L-124.7,48.1 Z"/>
</g>

<!-- legend -->
<g font-family="'DejaVu Sans', 'Liberation Sans', sans-serif" fill="#000">
<text x="1486" y="337" font-size="21.5" font-weight="bold">Avg date of</text>
<text x="1486" y="364.5" font-size="21.5" font-weight="bold">OW gen. larval</text>
<text x="1486" y="392" font-size="21.5" font-weight="bold">development</text>
</g>
<g shape-rendering="crispEdges">
<rect x="1486" y="407" width="25.5" height="25.6" fill="#4D4D4D"/>
<rect x="1486" y="432.45" width="25.5" height="25.6" fill="#DAD4EA"/>
<rect x="1486" y="457.9" width="25.5" height="25.6" fill="#B0A4CC"/>
<rect x="1486" y="483.35" width="25.5" height="25.6" fill="#8A7AB0"/>
<rect x="1486" y="508.8" width="25.5" height="25.6" fill="#604C92"/>
<rect x="1486" y="534.25" width="25.5" height="25.6" fill="#ADF7E2"/>
<rect x="1486" y="559.7" width="25.5" height="25.6" fill="#8EE6D2"/>
<rect x="1486" y="585.15" width="25.5" height="25.6" fill="#74D6C4"/>
<rect x="1486" y="610.6" width="25.5" height="25.6" fill="#52C2B6"/>
<rect x="1486" y="636.05" width="25.5" height="25.6" fill="#B8FAC0"/>
<rect x="1486" y="661.5" width="25.5" height="25.6" fill="#94D498"/>
<rect x="1486" y="686.95" width="25.5" height="25.6" fill="#64A468"/>
<rect x="1486" y="712.4" width="25.5" height="25.6" fill="#3E7A3E"/>
<rect x="1486" y="737.85" width="25.5" height="25.6" fill="#CCFF00"/>
<rect x="1486" y="763.3" width="25.5" height="25.5" fill="#A8EE00"/>

<rect x="1633" y="407" width="26" height="25.6" fill="#80E000"/>
<rect x="1633" y="432.45" width="26" height="25.6" fill="#56D000"/>
<rect x="1633" y="457.9" width="26" height="25.6" fill="#30C010"/>
<rect x="1633" y="483.35" width="26" height="25.6" fill="#FFFF00"/>
<rect x="1633" y="508.8" width="26" height="25.6" fill="#DDDA00"/>
<rect x="1633" y="534.25" width="26" height="25.6" fill="#BDB000"/>
<rect x="1633" y="559.7" width="26" height="25.6" fill="#9E8A0A"/>
<rect x="1633" y="585.15" width="26" height="25.6" fill="#FFD890"/>
<rect x="1633" y="610.6" width="26" height="25.6" fill="#FFC070"/>
<rect x="1633" y="636.05" width="26" height="25.6" fill="#FDA852"/>
<rect x="1633" y="661.5" width="26" height="25.6" fill="#FD9632"/>
<rect x="1633" y="686.95" width="26" height="25.6" fill="#F4CACA"/>
<rect x="1633" y="712.4" width="26" height="25.6" fill="#F49A9A"/>
<rect x="1633" y="737.85" width="26" height="25.6" fill="#F46868"/>
<rect x="1633" y="763.3" width="26" height="25.5" fill="#FC3434"/>

<rect x="1760" y="407" width="26" height="25.6" fill="#FF0000"/>
<rect x="1760" y="432.45" width="26" height="25.6" fill="#E4B8AE"/>
<rect x="1760" y="457.9" width="26" height="25.6" fill="#CC9284"/>
<rect x="1760" y="483.35" width="26" height="25.6" fill="#B06A5A"/>
<rect x="1760" y="508.8" width="26" height="25.5" fill="#FFB0D8"/>
</g>
<g font-family="'DejaVu Sans', 'Liberation Sans', sans-serif" font-size="20.5" fill="#000">
<text x="1523" y="427.5">excl.-sev.</text>
<text x="1523" y="453">Jan-07</text>
<text x="1523" y="478.4">Jan-14</text>
<text x="1523" y="503.9">Jan-21</text>
<text x="1523" y="529.3">Jan-28</text>
<text x="1523" y="554.8">Feb-04</text>
<text x="1523" y="580.2">Feb-11</text>
<text x="1523" y="605.7">Feb-18</text>
<text x="1523" y="631.1">Feb-25</text>
<text x="1523" y="656.6">Mar-04</text>
<text x="1523" y="682">Mar-11</text>
<text x="1523" y="707.5">Mar-18</text>
<text x="1523" y="732.9">Mar-25</text>
<text x="1523" y="758.4">Apr-01</text>
<text x="1523" y="783.8">Apr-08</text>

<text x="1670" y="427.5">Apr-15</text>
<text x="1670" y="453">Apr-22</text>
<text x="1670" y="478.4">Apr-29</text>
<text x="1670" y="503.9">May-06</text>
<text x="1670" y="529.3">May-13</text>
<text x="1670" y="554.8">May-20</text>
<text x="1670" y="580.2">May-27</text>
<text x="1670" y="605.7">Jun-03</text>
<text x="1670" y="631.1">Jun-10</text>
<text x="1670" y="656.6">Jun-17</text>
<text x="1670" y="682">Jun-24</text>
<text x="1670" y="707.5">Jul-01</text>
<text x="1670" y="732.9">Jul-08</text>
<text x="1670" y="758.4">Jul-15</text>
<text x="1670" y="783.8">Jul-22</text>

<text x="1796" y="427.5">Jul-30</text>
<text x="1796" y="453">Aug-08</text>
<text x="1796" y="478.4">Aug-13</text>
<text x="1796" y="503.9">Aug-29</text>
<text x="1796" y="529.3">Sep-04</text>
</g>
</svg>
</body></html>
